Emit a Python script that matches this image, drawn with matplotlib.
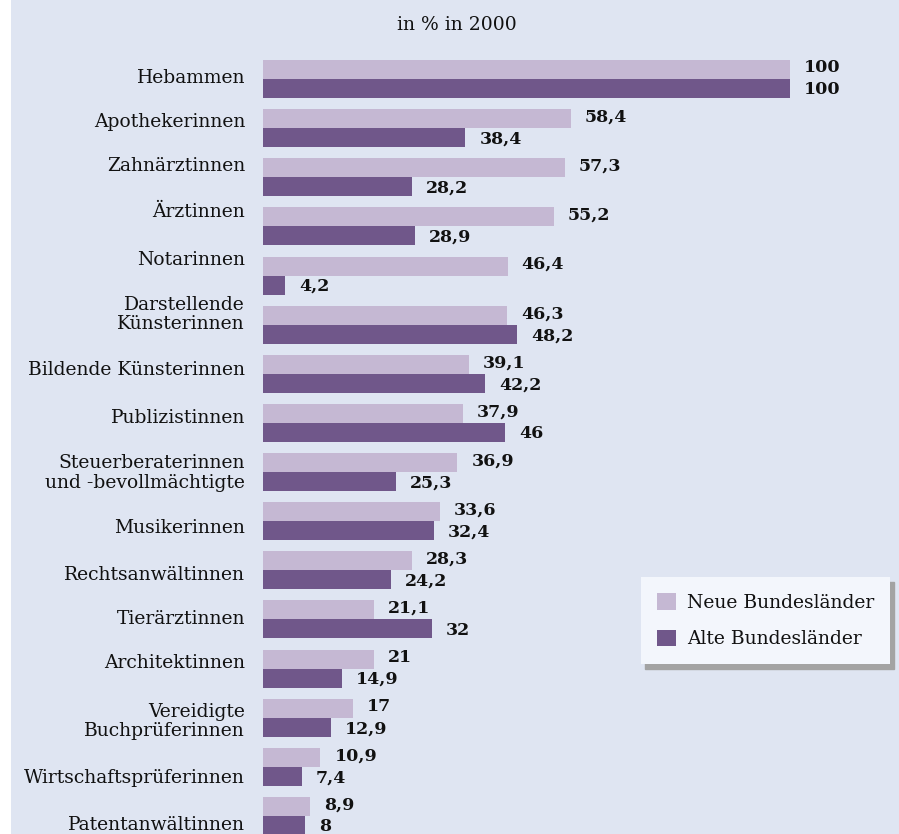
import matplotlib
matplotlib.use("Agg")
import matplotlib.pyplot as plt
from matplotlib.patches import Rectangle
from matplotlib.transforms import offset_copy

plt.rcParams['font.family'] = ['DejaVu Serif']

categories = ["Hebammen", "Apothekerinnen", "Zahnärztinnen", "Ärztinnen",
              "Notarinnen", "Darstellende\nKünsterinnen", "Bildende Künsterinnen",
              "Publizistinnen", "Steuerberaterinnen\nund -bevollmächtigte",
              "Musikerinnen", "Rechtsanwältinnen", "Tierärztinnen",
              "Architektinnen", "Vereidigte\nBuchprüferinnen",
              "Wirtschaftsprüferinnen", "Patentanwältinnen"]
neue = [100, 58.4, 57.3, 55.2, 46.4, 46.3, 39.1, 37.9, 36.9, 33.6, 28.3, 21.1, 21, 17, 10.9, 8.9]
alte = [100, 38.4, 28.2, 28.9, 4.2, 48.2, 42.2, 46, 25.3, 32.4, 24.2, 32, 14.9, 12.9, 7.4, 8]

# vertical nudges of the category labels (pixels, up = positive), as laid out in the source
label_shift = [1, 6, 11, 14, 16, 10, 4, 5, -1, -7, -5, 0, 6, -4, -11, -9]

bg = '#dfe5f2'
c_neue = '#c5b8d3'
c_alte = '#70578a'
txt = '#111111'

W, H = 899, 834
fig = plt.figure(figsize=(W / 100, H / 100), dpi=100, facecolor=bg)
fig.patches.append(Rectangle((0, 0), 11 / W, 1, transform=fig.transFigure,
                             facecolor='white', edgecolor='none', zorder=0))

ax = fig.add_axes([263 / W, 0, (W - 263) / W, 1])
ax.set_facecolor('none')
pitch = 49.13
h = 19 / pitch
ax.set_xlim(0, (W - 263) / 5.27)
ax.set_ylim((H - 79) / pitch, -79 / pitch)
ax.axis('off')

ys = list(range(len(categories)))
ax.barh([y - h for y in ys], neue, height=h, align='edge', color=c_neue, label='Neue Bundesländer')
ax.barh(ys, alte, height=h, align='edge', color=c_alte, label='Alte Bundesländer')

def fmt(v):
    return f"{v:g}".replace('.', ',')

for y, n, a, cat, dy in zip(ys, neue, alte, categories, label_shift):
    ax.text(n, y - h / 2, fmt(n), transform=offset_copy(ax.transData, fig, x=14, y=1.5, units='dots'),
            ha='left', va='center', fontsize=12.5, fontweight='bold', color=txt)
    ax.text(a, y + h / 2, fmt(a), transform=offset_copy(ax.transData, fig, x=14, y=-1.5, units='dots'),
            ha='left', va='center', fontsize=12.5, fontweight='bold', color=txt)
    ax.text(0, y, cat, transform=offset_copy(ax.get_yaxis_transform(), fig, x=-18, y=dy, units='dots'),
            ha='right', va='center', fontsize=13.5, color=txt, linespacing=1.1)

fig.text(457 / W, 1 - 25 / H, "in % in 2000", ha='center', va='center', fontsize=13.5, color=txt)

leg = ax.legend(loc='upper left', bbox_to_anchor=(641 / W, 1 - 577 / H), bbox_transform=fig.transFigure,
                borderaxespad=0, fancybox=False, frameon=True, facecolor='#f3f6fc', edgecolor='none',
                framealpha=1, fontsize=13.5, handlelength=1.0, handleheight=1.0, handletextpad=0.6,
                labelspacing=0.95, borderpad=0.85,
                shadow={'ox': 3, 'oy': -3.5, 'color': '#a3a3a3', 'alpha': 1})
for t in leg.get_texts():
    t.set_color(txt)

fig.savefig('out.png', dpi=100, facecolor=bg)
